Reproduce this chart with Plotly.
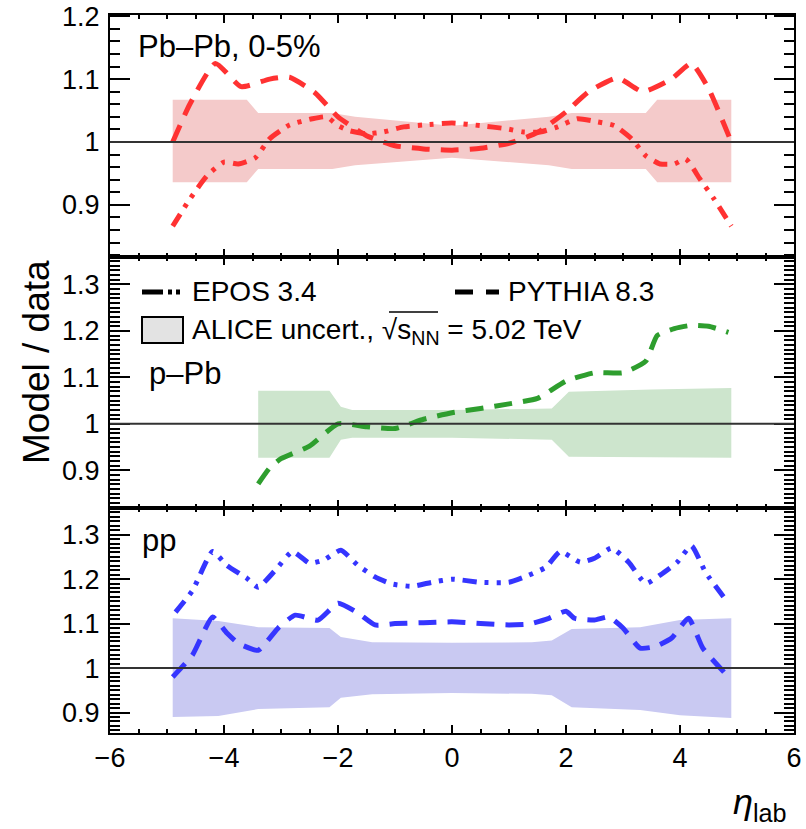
import plotly.graph_objects as go
from plotly.subplots import make_subplots

# ---------------- data ----------------
# Pb-Pb 0-5%
pbpb_band_x = [-4.9, -3.6, -3.4, -2.1, -1.7, 0.0, 1.7, 2.1, 3.4, 3.6, 4.9]
pbpb_band_hi = [1.067, 1.067, 1.046, 1.046, 1.040, 1.026, 1.040, 1.046, 1.046, 1.067, 1.067]
pbpb_band_lo = [0.936, 0.936, 0.957, 0.957, 0.963, 0.975, 0.963, 0.957, 0.957, 0.936, 0.936]

pbpb_pythia_x = [-4.9, -4.6, -4.15, -3.7, -3.2, -2.85, -2.4, -2.0, -1.5, -1.0, -0.5, 0.0,
                 0.5, 1.0, 1.5, 2.0, 2.4, 2.9, 3.35, 3.85, 4.2, 4.5, 4.9]
pbpb_pythia_y = [1.0, 1.06, 1.125, 1.088, 1.1, 1.103, 1.078, 1.04, 1.01, 0.994, 0.989, 0.987,
                 0.99, 0.998, 1.015, 1.048, 1.08, 1.102, 1.08, 1.1, 1.125, 1.085, 1.0]

pbpb_epos_x = [-4.9, -4.6, -4.3, -4.0, -3.75, -3.45, -3.2, -2.85, -2.45, -2.2, -2.0, -1.8, -1.5,
               -1.2, -0.85, -0.5, 0.0, 0.5, 0.95, 1.25, 1.55, 1.85, 2.2, 2.55, 2.85, 3.15, 3.4,
               3.65, 3.9, 4.1, 4.35, 4.6, 4.9]
pbpb_epos_y = [0.866, 0.909, 0.946, 0.968, 0.965, 0.975, 1.005, 1.027, 1.037, 1.04, 1.026, 1.018,
               1.013, 1.016, 1.024, 1.027, 1.03, 1.026, 1.021, 1.016, 1.016, 1.024, 1.037, 1.032,
               1.026, 1.005, 0.978, 0.965, 0.965, 0.973, 0.941, 0.909, 0.866]

# p-Pb
ppb_band_x = [-3.4, -2.15, -1.95, -1.75, 0.0, 1.75, 2.05, 3.5, 4.9]
ppb_band_hi = [1.071, 1.071, 1.037, 1.030, 1.030, 1.033, 1.069, 1.074, 1.077]
ppb_band_lo = [0.927, 0.927, 0.966, 0.970, 0.970, 0.966, 0.929, 0.928, 0.927]

ppb_pythia_x = [-3.4, -3.2, -3.0, -2.5, -2.0, -1.5, -1.0, -0.5, 0.0, 0.5, 1.0, 1.5, 2.0, 2.5,
                3.0, 3.4, 3.6, 3.9, 4.2, 4.5, 4.85]
ppb_pythia_y = [0.871, 0.905, 0.925, 0.952, 1.0, 0.994, 0.99, 1.01, 1.024, 1.033, 1.043, 1.055,
                1.092, 1.11, 1.11, 1.135, 1.19, 1.205, 1.212, 1.21, 1.197]

# pp
pp_band_x = [-4.9, -4.1, -3.4, -2.15, -1.95, -1.4, 0.0, 1.4, 1.75, 2.1, 3.3, 4.0, 4.9]
pp_band_hi = [1.112, 1.106, 1.092, 1.09, 1.07, 1.058, 1.057, 1.058, 1.062, 1.088, 1.092, 1.108, 1.112]
pp_band_lo = [0.89, 0.892, 0.908, 0.912, 0.933, 0.941, 0.944, 0.942, 0.939, 0.912, 0.906, 0.894, 0.888]

pp_pythia_x = [-4.9, -4.55, -4.2, -3.95, -3.75, -3.4, -3.05, -2.75, -2.35, -2.0, -1.65, -1.35,
               -1.0, -0.5, 0.0, 0.5, 1.0, 1.35, 1.7, 2.0, 2.15, 2.5, 2.75, 3.0, 3.3, 3.55, 3.85,
               4.15, 4.4, 4.85]
pp_pythia_y = [0.98, 1.03, 1.115, 1.079, 1.056, 1.04, 1.09, 1.119, 1.108, 1.146, 1.124, 1.097,
               1.1, 1.102, 1.104, 1.1, 1.097, 1.099, 1.112, 1.128, 1.112, 1.108, 1.115, 1.09,
               1.045, 1.048, 1.067, 1.112, 1.045, 0.98]

pp_epos_x = [-4.85, -4.55, -4.2, -3.95, -3.6, -3.4, -3.1, -2.8, -2.5, -2.25, -1.95, -1.65, -1.35,
             -1.05, -0.7, -0.35, 0.0, 0.5, 1.0, 1.35, 1.65, 1.9, 2.25, 2.5, 2.8, 3.1, 3.4, 3.65,
             3.95, 4.2, 4.45, 4.85]
pp_epos_y = [1.126, 1.175, 1.262, 1.231, 1.202, 1.182, 1.22, 1.262, 1.236, 1.243, 1.265, 1.231,
             1.205, 1.189, 1.184, 1.193, 1.2, 1.193, 1.193, 1.209, 1.227, 1.262, 1.238, 1.247,
             1.27, 1.238, 1.19, 1.209, 1.238, 1.275, 1.215, 1.146]

x_range = [-6, 6]
y_ranges = [[0.817, 1.202], [0.819, 1.359], [0.854, 1.36]]
panel_labels = ["Pb\u2013Pb, 0-5%", "p\u2013Pb", "pp"]

# ---------------- styling ----------------
FONT = "Liberation Sans, Arial, Helvetica, sans-serif"
RED, GREEN, BLUE = "#FF3232", "#2E9E2E", "#3535FF"
RED_B, GREEN_B, BLUE_B = "#F4CACA", "#CDE5CD", "#C9C9F2"
DASH = "18px,11px"
DASHDOT = "14px,8px,4px,8px,4px,8px"
LW = 5

W, H = 806, 829
ML, MR, MT, MB = 110, 12, 15, 96
PW, PH = W - ML - MR, H - MT - MB


def px(xp):
    return (xp - ML) / PW


def py(yp):
    return (H - MB - yp) / PH


fig = make_subplots(rows=3, cols=1, shared_xaxes=True, vertical_spacing=0,
                    row_heights=[242, 251, 225])


def band(xs, hi, lo, color, row):
    fig.add_trace(go.Scatter(x=xs + xs[::-1], y=hi + lo[::-1], fill="toself",
                             fillcolor=color, line=dict(width=0), mode="lines",
                             hoverinfo="skip", showlegend=False), row=row, col=1)


def curve(xs, ys, color, dash, row):
    fig.add_trace(go.Scatter(x=xs, y=ys, mode="lines",
                             line=dict(color=color, width=LW, dash=dash, shape="spline",
                                       smoothing=0.5),
                             showlegend=False), row=row, col=1)


band(pbpb_band_x, pbpb_band_hi, pbpb_band_lo, RED_B, 1)
curve(pbpb_epos_x, pbpb_epos_y, RED, DASHDOT, 1)
curve(pbpb_pythia_x, pbpb_pythia_y, RED, DASH, 1)

band(ppb_band_x, ppb_band_hi, ppb_band_lo, GREEN_B, 2)
curve(ppb_pythia_x, ppb_pythia_y, GREEN, DASH, 2)

band(pp_band_x, pp_band_hi, pp_band_lo, BLUE_B, 3)
curve(pp_epos_x, pp_epos_y, BLUE, DASHDOT, 3)
curve(pp_pythia_x, pp_pythia_y, BLUE, DASH, 3)

# unity lines
for r in (1, 2, 3):
    yref = "y" if r == 1 else f"y{r}"
    xref = "x domain" if r == 1 else f"x{r} domain"
    fig.add_shape(type="line", xref=xref, yref=yref, x0=0, x1=1, y0=1, y1=1,
                  line=dict(color="#333333", width=2), layer="above")

# axes
for r in (1, 2, 3):
    fig.update_xaxes(row=r, col=1, range=x_range, dtick=2, tick0=0, automargin=False,
                     ticks="inside", ticklen=8, tickwidth=2, tickcolor="black",
                     showline=True, linewidth=2, linecolor="black", mirror="allticks",
                     showgrid=False, zeroline=False,
                     minor=dict(ticks="inside", ticklen=4, tickwidth=1.5, dtick=0.5,
                                tickcolor="black", showgrid=False),
                     showticklabels=(r == 3),
                     tickfont=dict(family=FONT, size=27, color="black"),
                     ticklabelstandoff=0)
    mdt = 0.02 if r == 1 else 0.01
    fig.update_yaxes(row=r, col=1, range=y_ranges[r - 1], dtick=0.1, tick0=0, automargin=False,
                     ticks="inside", ticklen=20, tickwidth=2, tickcolor="black",
                     showline=True, linewidth=2, linecolor="black", mirror="allticks",
                     showgrid=False, zeroline=False,
                     minor=dict(ticks="inside", ticklen=10, tickwidth=1.5, dtick=mdt,
                                tickcolor="black", showgrid=False),
                     tickfont=dict(family=FONT, size=27, color="black"),
                     ticklabelstandoff=3)

annotations = []
# panel labels
annotations.append(dict(x=px(136), y=py(46), text=panel_labels[0], xanchor="left", yanchor="middle"))
annotations.append(dict(x=px(147), y=py(373), text=panel_labels[1], xanchor="left", yanchor="middle"))
annotations.append(dict(x=px(140), y=py(540), text=panel_labels[2], xanchor="left", yanchor="middle"))
for a in annotations:
    a.update(xref="paper", yref="paper", showarrow=False,
             font=dict(family=FONT, size=31, color="black"))

# legend texts
leg_font = dict(family=FONT, size=28, color="black")
annotations.append(dict(x=px(190), y=py(292), text="EPOS 3.4", xref="paper", yref="paper",
                        xanchor="left", yanchor="middle", showarrow=False, font=leg_font))
annotations.append(dict(x=px(506), y=py(292), text="PYTHIA 8.3", xref="paper", yref="paper",
                        xanchor="left", yanchor="middle", showarrow=False, font=leg_font))
annotations.append(dict(x=px(190), y=py(331),
                        text="ALICE uncert., \u221as<sub>NN</sub> = 5.02 TeV",
                        xref="paper", yref="paper", xanchor="left", yanchor="middle",
                        showarrow=False, font=leg_font))

# axis titles
annotations.append(dict(x=px(36), y=py(362), text="Model / data", textangle=-90,
                        xref="paper", yref="paper", xanchor="center", yanchor="middle",
                        showarrow=False, font=dict(family=FONT, size=37, color="black")))
annotations.append(dict(x=px(731), y=py(829), text="<i>\u03b7</i><sub>lab</sub>",
                        xref="paper", yref="paper", xanchor="left", yanchor="bottom",
                        showarrow=False, font=dict(family=FONT, size=36, color="black")))

# legend samples
shapes = []
shapes.append(dict(type="line", xref="paper", yref="paper", x0=px(142), x1=px(181),
                   y0=py(292), y1=py(292), line=dict(color="black", width=5,
                                                     dash="21px,5px,4px,4px,4px,100px")))
shapes.append(dict(type="line", xref="paper", yref="paper", x0=px(455), x1=px(499),
                   y0=py(292), y1=py(292), line=dict(color="black", width=5,
                                                     dash="18px,13px,13px,50px")))
shapes.append(dict(type="rect", xref="paper", yref="paper", x0=px(142), x1=px(183),
                   y0=py(343), y1=py(317), fillcolor="#E3E3E3",
                   line=dict(color="black", width=2)))
# overline of sqrt
shapes.append(dict(type="line", xref="paper", yref="paper", x0=px(389), x1=px(438),
                   y0=py(312), y1=py(312), line=dict(color="black", width=1.5)))

for s in shapes:
    fig.add_shape(**s)

fig.update_layout(width=W, height=H, margin=dict(l=ML, r=MR, t=MT, b=MB, autoexpand=False),
                  plot_bgcolor="white", paper_bgcolor="white",
                  annotations=annotations, showlegend=False,
                  font=dict(family=FONT, color="black"))

fig.write_html("out.html")
